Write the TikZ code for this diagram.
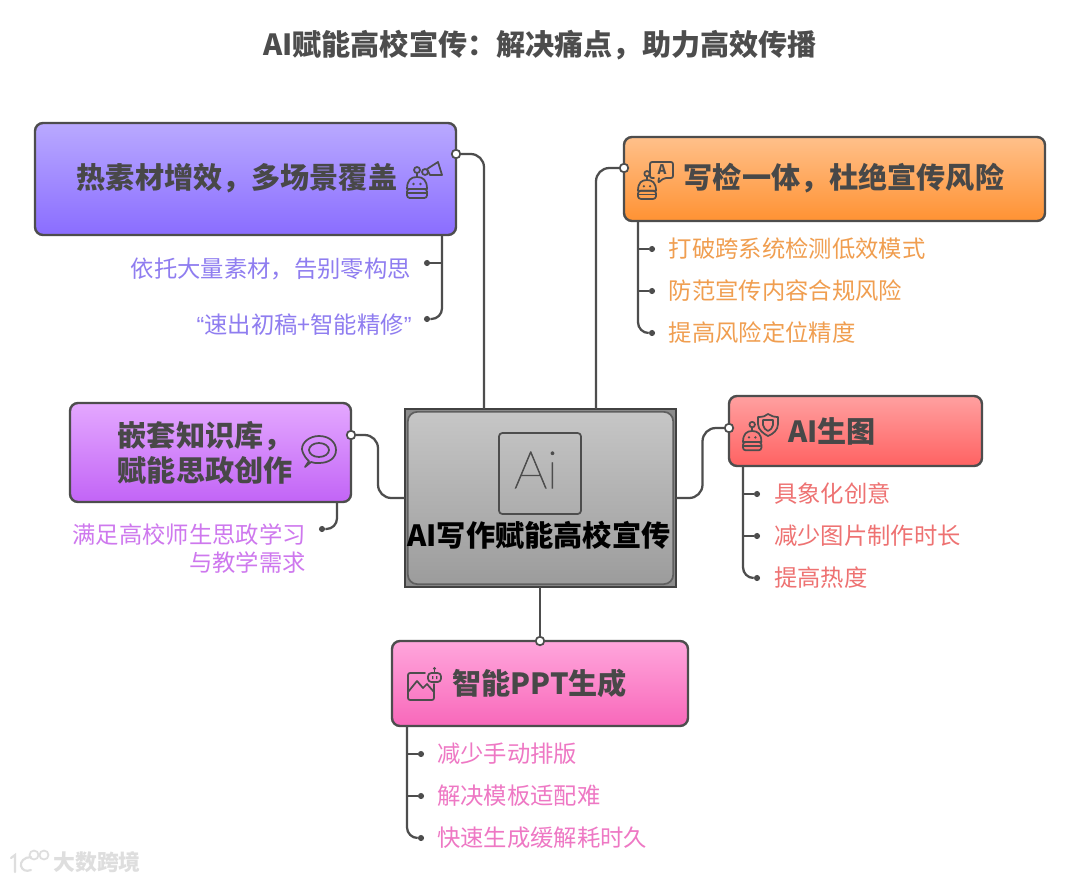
\documentclass[tikz,border=0pt]{standalone}
\usepackage{fontspec}
\setmainfont{Noto Sans CJK SC}
\newfontfamily\thinlatin[FakeBold=1.6]{Lato Hairline}
\newfontfamily\quotefont{Liberation Sans}
\usetikzlibrary{calc}
\definecolor{ink}{HTML}{4D4D4D}
\definecolor{headink}{HTML}{484848}
\definecolor{tpurple}{HTML}{8F7DF0}
\definecolor{torange}{HTML}{F09E50}
\definecolor{tviolet}{HTML}{CE78EE}
\definecolor{tred}{HTML}{EE7272}
\definecolor{tpink}{HTML}{EE78C4}
\definecolor{pa}{HTML}{B9A9FF}\definecolor{pb}{HTML}{8A6DFF}
\definecolor{oa}{HTML}{FFC08A}\definecolor{ob}{HTML}{FF9233}
\definecolor{va}{HTML}{E4A8FF}\definecolor{vb}{HTML}{C264F6}
\definecolor{ra}{HTML}{FFA0A0}\definecolor{rb}{HTML}{FF6262}
\definecolor{ka}{HTML}{FFA6DC}\definecolor{kb}{HTML}{F868BA}
\definecolor{ca}{HTML}{C6C6C6}\definecolor{cb}{HTML}{9C9C9C}
\tikzset{
  box/.style={draw=ink,line width=1.8pt,rounded corners=6pt,outer sep=0pt,inner sep=0pt},
  head/.style={font=\fontsize{21.85pt}{26.25pt}\selectfont\bfseries,text=headink,inner sep=0pt},
  subt/.style={font=\fontsize{17.5pt}{21pt}\selectfont,inner sep=0pt},
  conn/.style={draw=ink,line width=1.7pt,rounded corners=10pt},
  subc/.style={draw=ink,line width=1.7pt,rounded corners=8pt},
  odot/.style={circle,draw=ink,fill=white,line width=1.3pt,minimum size=6.4pt,inner sep=0pt},
  bdot/.style={circle,fill=ink,minimum size=4.6pt,inner sep=0pt},
  ico/.style={draw=ink,line width=1.3pt,line join=round,line cap=round},
  robotico/.pic={
    \draw[ico] (0,12) .. controls (0,3) and (4,0) .. (10,0) .. controls (16,0) and (20,3) .. (20,12) -- cycle;
    \draw[ico,rounded corners=2pt] (0,12) -- (20,12) -- (20,21) -- (0,21) -- cycle;
    \draw[ico] (10,-4) -- (10,0);
    \draw[ico] (10,-7) circle [radius=3];
    \fill[ink] (6.5,7) circle [radius=1.4] (13.5,7) circle [radius=1.4];
    \draw[ico] (1,16) -- (19,16);
  }
}
\begin{document}
\begin{tikzpicture}[x=0.75pt,y=-0.75pt]
\useasboundingbox (0,0) rectangle (1080,881);
\fill[white] (0,0) rectangle (1080,881);

% boxes
\node[box,minimum width=315.75pt,minimum height=84pt,top color=pa,bottom color=pb] (purple) at (245.5,179) {};
\node[box,minimum width=315.75pt,minimum height=63pt,top color=oa,bottom color=ob] (orange) at (834.5,179) {};
\node[box,minimum width=210.75pt,minimum height=74.25pt,top color=va,bottom color=vb] (violet) at (210.5,452.5) {};
\node[box,minimum width=189.75pt,minimum height=52.5pt,top color=ra,bottom color=rb] (red) at (855.5,431) {};
\node[box,minimum width=222pt,minimum height=63.75pt,top color=ka,bottom color=kb] (pink) at (540,683.5) {};
\node[minimum width=203.25pt,minimum height=133.5pt,outer sep=0pt,inner sep=0pt] (core) at (540.5,498) {};
\path[fill=ink!65!white] (core.south west) rectangle (core.north east);
\node[draw=ink!90!white,line width=1.3pt,rounded corners=7pt,minimum width=199pt,minimum height=129.2pt,top color=ca,bottom color=cb,outer sep=0pt,inner sep=0pt] (coreinner) at (540.5,498) {};
\draw[ink!85!black,line width=1.9pt] (core.south west) rectangle (core.north east);

% trunk connectors
\coordinate (c1) at (484,409);
\coordinate (c2) at (596,409);
\node[odot] (dp) at (456,154) {};
\node[odot] (do) at (624,168) {};
\node[odot] (dv) at (351,435) {};
\node[odot] (dr) at (729,428) {};
\node[odot] (dk) at (540,641) {};
\draw[conn] (dp) -| (c1);
\draw[conn] (do) -| (c2);
\draw[conn] (dv) -| ($(dv)!.5!(core.west)$) |- (core.west);
\draw[conn] (dr) -| ($(dr)!.5!(core.east)$) |- (core.east);
\draw[conn] (core.south -| dk) -- (dk);

% branch connectors
\coordinate (bp) at (442,235);
\node[bdot] (p1) at (427,263) {};
\node[bdot] (p2) at (427,319) {};
\draw[subc] (bp) |- (p2);
\draw[subc] (bp |- p1) -- (p1);
\coordinate (bo) at (638,221);
\node[bdot] (o1) at (652,249) {};
\node[bdot] (o2) at (652,291) {};
\node[bdot] (o3) at (652,333) {};
\draw[subc] (bo) |- (o3);
\draw[subc] (bo |- o1) -- (o1);
\draw[subc] (bo |- o2) -- (o2);
\coordinate (bv) at (337,502);
\node[bdot] (v1) at (322,529) {};
\draw[subc] (bv) |- (v1);
\coordinate (br) at (743,466);
\node[bdot] (r1) at (757,494) {};
\node[bdot] (r2) at (757,536) {};
\node[bdot] (r3) at (757,578) {};
\draw[subc] (br) |- (r3);
\draw[subc] (br |- r1) -- (r1);
\draw[subc] (br |- r2) -- (r2);
\coordinate (bk) at (407,726);
\node[bdot] (k1) at (421,754) {};
\node[bdot] (k2) at (421,796) {};
\node[bdot] (k3) at (421,838) {};
\draw[subc] (bk) |- (k3);
\draw[subc] (bk |- k1) -- (k1);
\draw[subc] (bk |- k2) -- (k2);

% title
\node[font=\fontsize{21.85pt}{25pt}\selectfont\bfseries,text=ink,inner sep=0pt] (title) at (540,45.5) {AI赋能高校宣传：解决痛点，助力高效传播};

% heads
\node[head,anchor=west] (hp) at (76.5,178) {热素材增效，多场景覆盖};
\node[head,anchor=west] (ho) at (683.5,178.5) {写检一体，杜绝宣传风险};
\node[head,anchor=west,align=left] (hv) at (117.5,452.5) {嵌套知识库，\\赋能思政创作};
\node[head,anchor=west] (hr) at (788,431) {AI生图};
\node[head,anchor=west] (hk) at (452,683) {智能PPT生成};
\node[font=\fontsize{21.9pt}{25pt}\selectfont\bfseries,text=black,inner sep=0pt] (hc) at (539,535) {AI写作赋能高校宣传};

% sub labels
\node[subt,text=tpurple,anchor=east] (tp1) at (411,269) {依托大量素材，告别零构思};
\node[subt,text=tpurple,anchor=east] (tp2) at (412,325) {{\quotefont “}速出初稿+智能精修{\quotefont ”}};
\node[subt,text=torange,anchor=west] (to1) at (668.5,249) {打破跨系统检测低效模式};
\node[subt,text=torange,anchor=west] (to2) at (668.5,291) {防范宣传内容合规风险};
\node[subt,text=torange,anchor=west] (to3) at (668.5,333) {提高风险定位精度};
\node[subt,text=tviolet,anchor=east] (tv1) at (306,535) {满足高校师生思政学习};
\node[subt,text=tviolet,anchor=east] (tv2) at (306,563) {与教学需求};
\node[subt,text=tred,anchor=west] (tr1) at (774,494) {具象化创意};
\node[subt,text=tred,anchor=west] (tr2) at (774,536) {减少图片制作时长};
\node[subt,text=tred,anchor=west] (tr3) at (774,578) {提高热度};
\node[subt,text=tpink,anchor=west] (tk1) at (437,754) {减少手动排版};
\node[subt,text=tpink,anchor=west] (tk2) at (437,796) {解决模板适配难};
\node[subt,text=tpink,anchor=west] (tk3) at (437,838) {快速生成缓解耗时久};

% centre icon
\draw[ico,rounded corners=2.5pt] (499,433) rectangle (581,514);
\node[font=\fontsize{39pt}{40pt}\thinlatin,text=ink,inner sep=0pt] (aiglyph) at (536,470) {Ai};

% icon: robot + megaphone
\pic at (407,177) {robotico};
\draw[ico] (427,169) -- (438,162) -- (442,175) -- (430,175) -- cycle;
\draw[ico] (425,172) circle [radius=3];

% icon: robot + speech bubble
\pic[scale=.9] at (638,180) {robotico};
\draw[ico,rounded corners=1.5pt] (654,178) -- (650,178) -- (650,162) -- (673,162) -- (673,178) -- (664,178) -- (658,183) -- (659,178);
\node[font=\fontsize{10pt}{10pt}\selectfont\bfseries,text=ink,inner sep=0pt] (icoa) at (662,170) {A};

% icon: robot + shield
\pic[scale=.92] at (743,431) {robotico};
\draw[ico] (758,417) .. controls (763,417) and (766,416) .. (768,414) .. controls (771,416) and (774,417) .. (778,417) -- (778,424) .. controls (778,430) and (773,434) .. (768,436) .. controls (764,434) and (758,430) .. (758,424) -- cycle;
\draw[ico] (763,420) -- (773,420) -- (773,425) .. controls (773,428) and (770,430) .. (768,431) .. controls (766,430) and (763,428) .. (763,425) -- cycle;

% icon: chat bubble
\draw[ico] (309,461) .. controls (303,456) and (302,450) .. (302,449) .. controls (302,442) and (310,436) .. (319,436) .. controls (329,436) and (336,442) .. (336,450) .. controls (336,458) and (329,463) .. (319,463) .. controls (316,463) and (313,463) .. (311,462) -- (305,467) -- cycle;
\draw[ico] (319,450) ellipse [x radius=10,y radius=7];

% icon: picture + robot head
\draw[ico,rounded corners=1.5pt] (425,673) -- (408,673) -- (408,700) -- (434,700) -- (434,684);
\draw[ico] (408,692) -- (417,681) -- (423,688) -- (427,684) -- (434,692);
\draw[ico,rounded corners=2.5pt] (428,673) rectangle (441,682);
\draw[ico] (434.5,670) -- (434.5,673);
\fill[ink] (434.5,668.5) circle [radius=1.6];
\fill[ink] (432,676) rectangle (433.3,679) (436,676) rectangle (437.3,679);

% watermark
\node[font=\fontsize{16.4pt}{16pt}\selectfont\bfseries,text=black!13,inner sep=0pt,anchor=west] (wm) at (53,862) {大数跨境};
\draw[black!13,line width=1.6pt,line cap=round] (11,858) -- (15,855) -- (15,872);
\draw[black!13,line width=1.6pt,line cap=round] (31,857) .. controls (24,857) and (20,862) .. (21,866) .. controls (22,870) and (26,872) .. (31,870);
\draw[black!13,line width=1.3pt] (34,855) circle [radius=4.5] (44,855) circle [radius=4.5];
\end{tikzpicture}
\end{document}
